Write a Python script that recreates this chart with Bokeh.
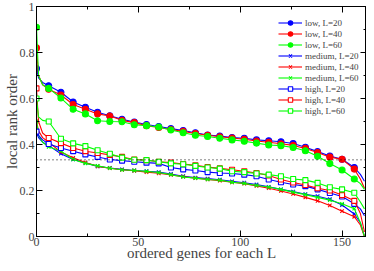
from bokeh.plotting import figure
from bokeh.models import (Range1d, FixedTicker, LinearAxis, Span, Legend, LegendItem,
                          CustomJSTickFormatter, ColumnDataSource)
from bokeh.embed import file_html
from bokeh.resources import INLINE

# ordered gene index at which values are read
genes = [0, 1, 3, 6, 12, 18, 24, 30, 36, 42, 48, 54, 60, 66, 72, 78, 84, 90,
         96, 102, 108, 114, 120, 126, 132, 138, 144, 150, 156, 159, 161]

low_20 = [0.73, 0.69, 0.67, 0.655, 0.627, 0.585, 0.562, 0.54, 0.525, 0.51, 0.498, 0.487, 0.478,
          0.469, 0.461, 0.451, 0.441, 0.437, 0.43, 0.427, 0.42, 0.416, 0.412, 0.404, 0.388,
          0.369, 0.35, 0.336, 0.30, 0.27, 0.24]
low_40 = [0.82, 0.70, 0.66, 0.64, 0.615, 0.574, 0.553, 0.533, 0.524, 0.505, 0.495, 0.482, 0.474,
          0.465, 0.457, 0.448, 0.44, 0.434, 0.428, 0.423, 0.415, 0.41, 0.403, 0.396, 0.383,
          0.365, 0.345, 0.336, 0.293, 0.25, 0.21]
low_60 = [0.91, 0.70, 0.66, 0.644, 0.602, 0.553, 0.533, 0.503, 0.500, 0.499, 0.486, 0.482, 0.476,
          0.463, 0.451, 0.44, 0.435, 0.427, 0.42, 0.414, 0.406, 0.398, 0.395, 0.387, 0.373,
          0.349, 0.317, 0.289, 0.25, 0.23, 0.205]
medium_20 = [0.45, 0.43, 0.41, 0.395, 0.36, 0.335, 0.32, 0.305, 0.298, 0.292, 0.287, 0.284, 0.28,
             0.272, 0.262, 0.256, 0.252, 0.247, 0.24, 0.234, 0.226, 0.216, 0.205, 0.195, 0.184,
             0.175, 0.162, 0.137, 0.098, 0.06, 0.0]
medium_40 = [0.50, 0.46, 0.43, 0.41, 0.367, 0.342, 0.322, 0.305, 0.297, 0.29, 0.286, 0.28, 0.275,
             0.268, 0.26, 0.254, 0.248, 0.243, 0.236, 0.23, 0.22, 0.21, 0.198, 0.185, 0.17,
             0.155, 0.135, 0.11, 0.086, 0.05, 0.0]
medium_60 = [0.50, 0.44, 0.41, 0.39, 0.371, 0.335, 0.318, 0.307, 0.297, 0.29, 0.287, 0.283, 0.278,
             0.269, 0.259, 0.254, 0.248, 0.245, 0.236, 0.231, 0.222, 0.215, 0.205, 0.193, 0.182,
             0.17, 0.158, 0.142, 0.121, 0.06, 0.0]
high_20 = [0.456, 0.44, 0.42, 0.402, 0.385, 0.371, 0.357, 0.346, 0.335, 0.33, 0.325, 0.321, 0.318,
           0.30, 0.292, 0.287, 0.28, 0.276, 0.274, 0.269, 0.262, 0.248, 0.236, 0.226, 0.219,
           0.205, 0.189, 0.174, 0.142, 0.12, 0.09]
high_40 = [0.644, 0.50, 0.45, 0.428, 0.406, 0.385, 0.371, 0.363, 0.355, 0.346, 0.335, 0.332, 0.325,
           0.321, 0.315, 0.31, 0.302, 0.296, 0.29, 0.284, 0.276, 0.265, 0.248, 0.235, 0.224,
           0.21, 0.20, 0.18, 0.155, 0.10, 0.02]
high_60 = [0.60, 0.52, 0.505, 0.50, 0.425, 0.405, 0.393, 0.375, 0.36, 0.343, 0.334, 0.332, 0.325,
           0.318, 0.314, 0.307, 0.30, 0.295, 0.284, 0.28, 0.274, 0.269, 0.262, 0.25, 0.245,
           0.233, 0.214, 0.205, 0.19, 0.15, 0.12]

labels = ["low, L=20", "low, L=40", "low, L=60",
          "medium, L=20", "medium, L=40", "medium, L=60",
          "high, L=20", "high, L=40", "high, L=60"]
series = [low_20, low_40, low_60, medium_20, medium_40, medium_60, high_20, high_40, high_60]
random_level = 1.0 / 3.0
x_ticks = [0, 50, 100, 150]
x_minor = [25, 75, 125]
y_ticks = [0, 0.2, 0.4, 0.6, 0.8, 1.0]
y_minor = [0.1, 0.3, 0.5, 0.7, 0.9]

colors = ["#0000ff", "#ff0000", "#00ff00"] * 3
markers = ["circle"] * 3 + ["x"] * 3 + ["square"] * 3
sizes = [6] * 3 + [5] * 3 + [5] * 3
fills = colors[:6] + ["white"] * 3

FONT = "Liberation Serif"

p = figure(width=366, height=263, output_backend="svg", toolbar_location=None,
           x_range=Range1d(0, 162), y_range=Range1d(0, 1),
           min_border_left=0, min_border_right=0, min_border_top=6, min_border_bottom=0)
p.xgrid.visible = False
p.ygrid.visible = False
p.outline_line_color = "black"
p.outline_line_width = 1
p.background_fill_color = "white"
p.border_fill_color = "white"

items = []
for vals, lab, col, mk, sz, fc in zip(series, labels, colors, markers, sizes, fills):
    src = ColumnDataSource(dict(x=genes, y=vals))
    msrc = ColumnDataSource(dict(x=[g for g in genes if g % 6 == 0],
                                 y=[v for g, v in zip(genes, vals) if g % 6 == 0]))
    r1 = p.line("x", "y", source=src, line_color=col, line_width=1.1)
    r2 = p.scatter("x", "y", source=msrc, marker=mk, size=sz, line_color=col,
                   fill_color=fc, line_width=1.1)
    items.append(LegendItem(label=lab, renderers=[r1, r2]))

p.add_layout(Span(location=random_level, dimension="width", line_color="black",
                  line_width=1, line_dash="1 3"))

fmt = CustomJSTickFormatter(code="return tick.toFixed(1).replace(/\\.0$/, '');")
blank = CustomJSTickFormatter(code="return '';")

def style_axis(ax, show_labels):
    ax.axis_line_color = "black"
    ax.major_tick_in = 6
    ax.major_tick_out = 0
    ax.minor_tick_in = 3
    ax.minor_tick_out = 0
    ax.major_tick_line_color = "black"
    ax.minor_tick_line_color = "black"
    ax.major_label_text_font = FONT
    ax.major_label_text_font_size = "12px"
    ax.major_label_standoff = 2 if show_labels else 0
    ax.axis_label_text_font = FONT
    ax.axis_label_text_font_size = "15px"
    ax.axis_label_text_font_style = "normal"
    ax.axis_label_standoff = 0

xa = p.xaxis[0]
xa.ticker = FixedTicker(ticks=x_ticks, minor_ticks=x_minor)
xa.axis_label = "ordered genes for each L"
style_axis(xa, True)
xa.major_label_standoff = 1
xa.axis_label_standoff = -4
ya = p.yaxis[0]
ya.ticker = FixedTicker(ticks=y_ticks, minor_ticks=y_minor)
ya.formatter = fmt
ya.axis_label = "local rank order"
style_axis(ya, True)
ya.axis_label_standoff = -3

top = LinearAxis(ticker=FixedTicker(ticks=x_ticks, minor_ticks=x_minor), formatter=blank)
style_axis(top, False)
p.add_layout(top, "above")
right = LinearAxis(ticker=FixedTicker(ticks=y_ticks, minor_ticks=y_minor), formatter=blank)
style_axis(right, False)
p.add_layout(right, "right")

legend = Legend(items=items, location=(242, 120))
legend.label_text_font = FONT
legend.label_text_font_size = "9px"
legend.label_height = 11
legend.glyph_height = 11
legend.glyph_width = 24
legend.spacing = 0
legend.label_standoff = 3
legend.padding = 0
legend.margin = 0
legend.border_line_color = None
legend.background_fill_alpha = 0
p.add_layout(legend)

open("out.html", "w").write(file_html(p, INLINE))
